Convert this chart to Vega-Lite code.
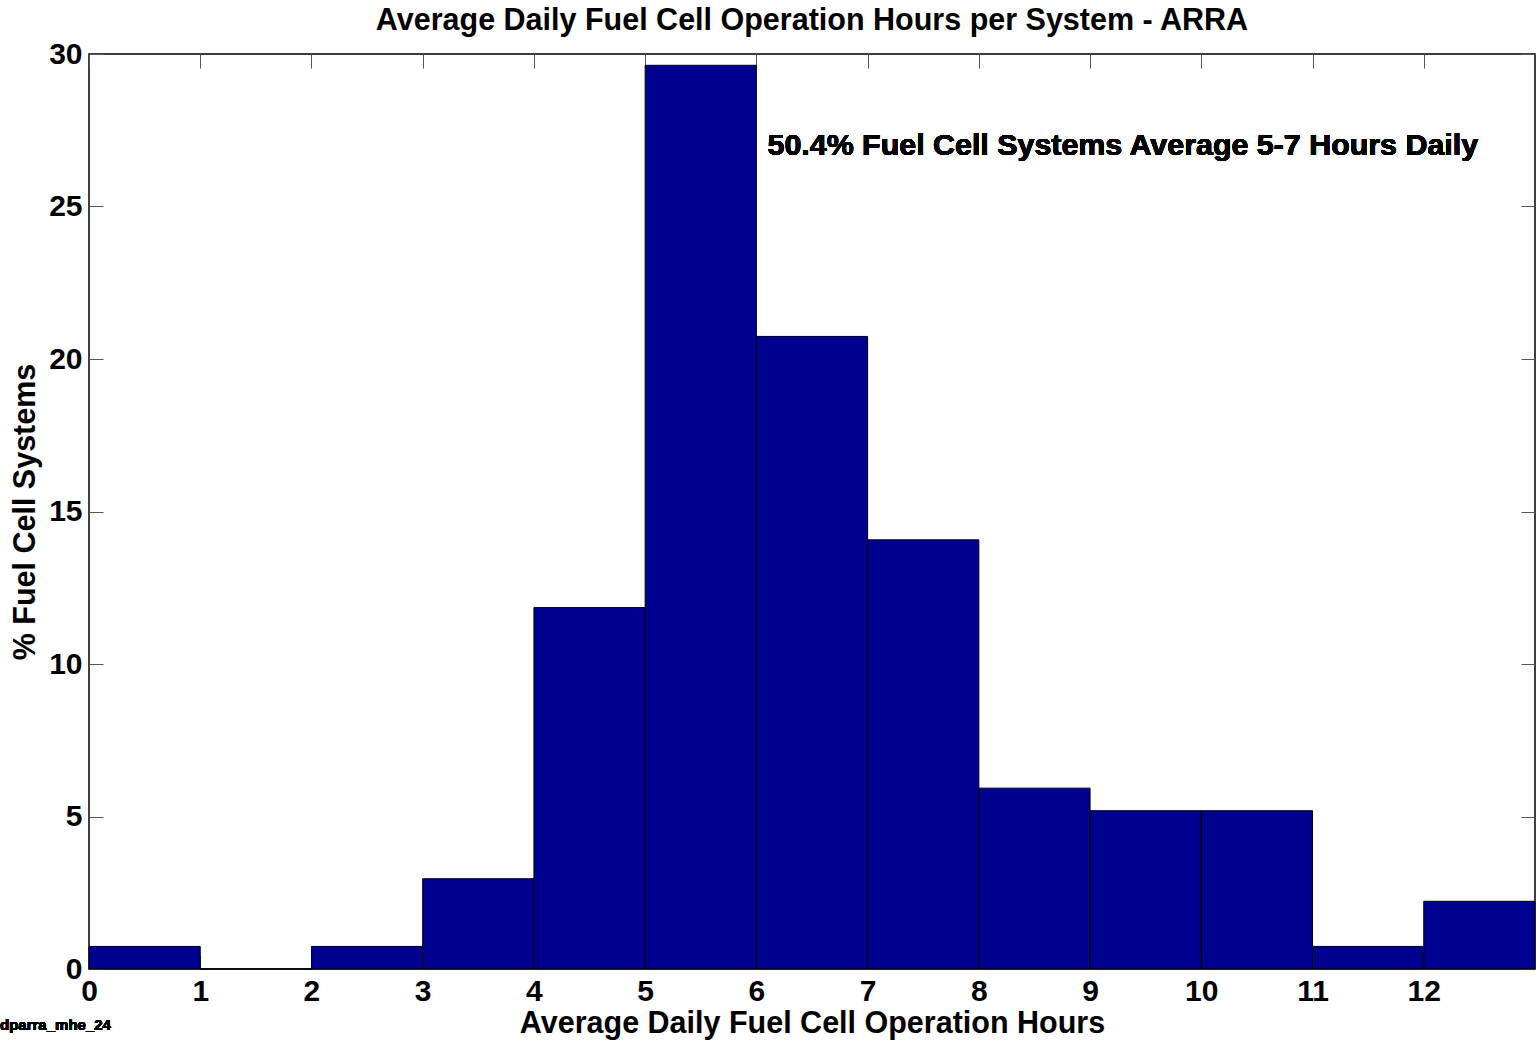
{
  "$schema": "https://vega.github.io/schema/vega-lite/v6.json",
  "width": 1446,
  "height": 915,
  "autosize": {"type": "none"},
  "padding": {"left": 89, "top": 54, "right": 1, "bottom": 71},
  "background": "white",
  "title": {
    "text": "Average Daily Fuel Cell Operation Hours per System - ARRA",
    "fontSize": 30.5,
    "font": "Liberation Sans",
    "fontWeight": "bold",
    "color": "black",
    "anchor": "middle",
    "offset": 3
  },
  "config": {
    "view": {"stroke": "black", "strokeWidth": 1.5},
    "font": "Liberation Sans",
    "axis": {
      "labelFont": "Liberation Sans",
      "labelFontSize": 30,
      "labelFontWeight": "bold",
      "labelColor": "black",
      "titleFont": "Liberation Sans",
      "titleFontSize": 30.5,
      "titleFontWeight": "bold",
      "titleColor": "black",
      "grid": false,
      "domain": false,
      "labelFlush": false,
      "tickColor": "#555555",
      "tickWidth": 1
    }
  },
  "data": {
    "values": [
      {"bin_start": 0, "bin_end": 1, "pct": 0.74},
      {"bin_start": 1, "bin_end": 2, "pct": 0},
      {"bin_start": 2, "bin_end": 3, "pct": 0.74},
      {"bin_start": 3, "bin_end": 4, "pct": 2.96},
      {"bin_start": 4, "bin_end": 5, "pct": 11.85},
      {"bin_start": 5, "bin_end": 6, "pct": 29.63},
      {"bin_start": 6, "bin_end": 7, "pct": 20.74},
      {"bin_start": 7, "bin_end": 8, "pct": 14.07},
      {"bin_start": 8, "bin_end": 9, "pct": 5.93},
      {"bin_start": 9, "bin_end": 10, "pct": 5.19},
      {"bin_start": 10, "bin_end": 11, "pct": 5.19},
      {"bin_start": 11, "bin_end": 12, "pct": 0.74},
      {"bin_start": 12, "bin_end": 13, "pct": 2.22}
    ]
  },
  "layer": [
    {
      "mark": {"type": "rect", "opacity": 0},
      "encoding": {
        "x": {"field": "bin_start", "type": "quantitative", "scale": {"domain": [0, 13], "nice": false},
          "axis": {"orient": "bottom", "values": [0,1,2,3,4,5,6,7,8,9,10,11,12], "labels": false, "tickSize": 14, "offset": -14, "title": null}},
        "x2": {"field": "bin_end"},
        "y": {"field": "pct", "type": "quantitative", "scale": {"domain": [0, 30], "nice": false},
          "axis": {"orient": "left", "values": [0,5,10,15,20,25,30], "labels": false, "tickSize": 14, "offset": -14, "title": null}},
        "y2": {"datum": 0}
      }
    },
    {
      "mark": {"type": "rect", "color": "#00008F", "stroke": "black", "strokeWidth": 1},
      "encoding": {
        "x": {"field": "bin_start", "type": "quantitative", "scale": {"domain": [0, 13], "nice": false},
          "axis": {"orient": "bottom", "values": [0,1,2,3,4,5,6,7,8,9,10,11,12], "ticks": false, "labelPadding": 7, "titlePadding": 2, "title": "Average Daily Fuel Cell Operation Hours"}},
        "x2": {"field": "bin_end"},
        "y": {"field": "pct", "type": "quantitative", "scale": {"domain": [0, 30], "nice": false},
          "axis": {"orient": "left", "values": [0,5,10,15,20,25,30], "ticks": false, "labelPadding": 7, "titlePadding": 8, "title": "% Fuel Cell Systems"}},
        "y2": {"datum": 0}
      }
    },
    {
      "mark": {"type": "rect", "opacity": 0},
      "encoding": {
        "x": {"field": "bin_start", "type": "quantitative", "scale": {"domain": [0, 13], "nice": false},
          "axis": {"orient": "top", "values": [0,1,2,3,4,5,6,7,8,9,10,11,12], "labels": false, "tickSize": 14, "offset": -14, "title": null}},
        "x2": {"field": "bin_end"},
        "y": {"field": "pct", "type": "quantitative", "scale": {"domain": [0, 30], "nice": false},
          "axis": {"orient": "right", "values": [0,5,10,15,20,25,30], "labels": false, "tickSize": 14, "offset": -14, "title": null}},
        "y2": {"datum": 0}
      }
    },
    {
      "mark": {"type": "text", "align": "left", "baseline": "middle", "font": "Liberation Sans", "fontWeight": "bold", "fontSize": 30.4, "color": "black"},
      "encoding": {
        "x": {"datum": 6.1, "type": "quantitative", "axis": null},
        "y": {"datum": 27.0, "type": "quantitative", "axis": null},
        "text": {"value": "50.4% Fuel Cell Systems Average 5-7 Hours Daily"}
      }
    },
    {
      "mark": {"type": "text", "align": "left", "baseline": "middle", "font": "Liberation Sans", "fontWeight": "bold", "fontSize": 15, "color": "black"},
      "encoding": {
        "x": {"datum": -0.8, "type": "quantitative", "axis": null},
        "y": {"datum": -1.85, "type": "quantitative", "axis": null},
        "text": {"value": "dparra_mhe_24"}
      }
    }
  ],
  "resolve": {"axis": {"x": "independent", "y": "independent"}}
}
